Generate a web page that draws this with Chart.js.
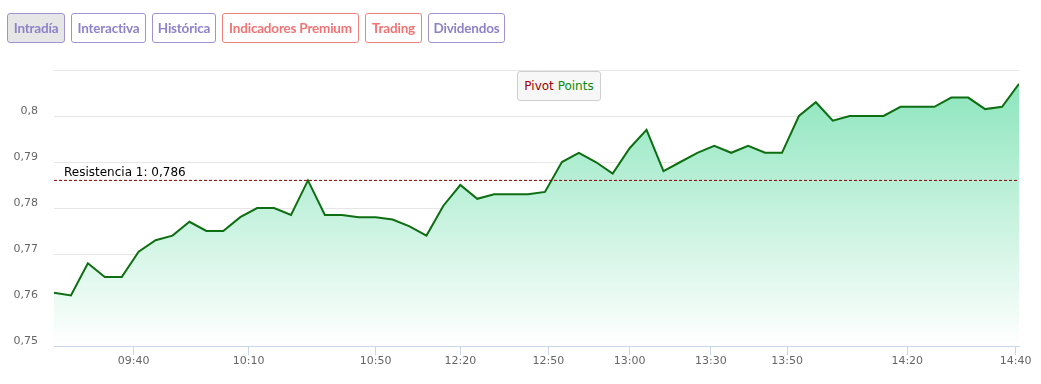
<!DOCTYPE html>
<html>
<head>
<meta charset="utf-8">
<script src="https://cdn.jsdelivr.net/npm/chart.js@4/dist/chart.umd.min.js"></script>
<style>
  body { margin: 0; background: #fff; font-family: "Lato", "Open Sans", sans-serif; }
  #wrap { position: relative; width: 1041px; height: 384px; }
  #grafico { position: absolute; left: 0; top: 0; }
  .botoes { position: absolute; left: 7px; top: 13px; display: flex; gap: 6px; }
  .botao {
    height: 30px; box-sizing: border-box; padding: 0; border: 1px solid #9f94d3;
    border-radius: 3px; color: #8e82c9; font-size: 13.5px; font-weight: 700;
    line-height: 28px; background: #fff; letter-spacing: -0.2px; text-align: center;
    white-space: nowrap;
  }
  .botao.ativo { background: #e6e6e6; }
  .botao.vermelho { border-color: #ef8080; color: #ef7474; }
  #pivot {
    position: absolute; left: 517px; top: 71px; width: 84px; height: 30px; box-sizing: border-box;
    border: 1px solid #cfcfcf; border-radius: 3px; background: #f7f7f7;
    font-family: "DejaVu Sans", sans-serif; font-size: 12px; line-height: 28px; text-align: center;
  }
</style>
</head>
<body>
<div id="wrap">
  <canvas id="grafico" width="1041" height="384"></canvas>
  <div class="botoes">
    <div class="botao ativo" style="width:58px">Intradía</div>
    <div class="botao" style="width:75px">Interactiva</div>
    <div class="botao" style="width:64px">Histórica</div>
    <div class="botao vermelho" style="width:137px">Indicadores Premium</div>
    <div class="botao vermelho" style="width:57px">Trading</div>
    <div class="botao" style="width:77px">Dividendos</div>
  </div>
  <div id="pivot"><span style="color:#a00000">Pivot</span> <span style="color:#0a8a0a">Points</span></div>
</div>
<script>
// Cotação intradía (um ponto por negociação, eixo ordinal)
const precos = [
  0.7616, 0.7610, 0.7680, 0.7650, 0.7650, 0.7705, 0.7730, 0.7740, 0.7770, 0.7750,
  0.7750, 0.7780, 0.7800, 0.7800, 0.7785, 0.7860, 0.7785, 0.7785, 0.7780, 0.7780,
  0.7775, 0.7760, 0.7740, 0.7805, 0.7850, 0.7820, 0.7830, 0.7830, 0.7830, 0.7835,
  0.7900, 0.7920, 0.7900, 0.7875, 0.7930, 0.7970, 0.7880, 0.7900, 0.7920, 0.7935,
  0.7920, 0.7935, 0.7920, 0.7920, 0.8000, 0.8030, 0.7990, 0.8000, 0.8000, 0.8000,
  0.8020, 0.8020, 0.8020, 0.8040, 0.8040, 0.8015, 0.8020, 0.8070
];
// Rótulos de hora e o índice (posição ordinal) onde caem
const rotulosHora = ["09:40", "10:10", "10:50", "12:20", "12:50", "13:00", "13:30", "13:50", "14:20", "14:40"];
const indiceHora = [4.7, 11.5, 19, 24, 29.2, 34, 38.8, 43.3, 50.4, 56.8];
const resistencia = 0.786;
const rotuloResistencia = "Resistencia 1: 0,786";

const indices = precos.map((_, i) => i);
const pontos = indices.map(i => ({ x: i, y: precos[i] }));
const linhaResistencia = [{ x: 0, y: resistencia }, { x: precos.length - 1, y: resistencia }];

// Plugin para escrever o rótulo da resistência
const rotuloPlugin = {
  id: "rotuloResistencia",
  afterDatasetsDraw(chart) {
    const ctx = chart.ctx;
    const y = chart.scales.y.getPixelForValue(resistencia);
    ctx.save();
    ctx.font = "12px 'DejaVu Sans', sans-serif";
    ctx.fillStyle = "#000";
    ctx.textBaseline = "bottom";
    ctx.fillText(rotuloResistencia, chart.chartArea.left + 10, y - 2);
    ctx.restore();
  }
};

const ctx = document.getElementById("grafico").getContext("2d");

new Chart(ctx, {
  type: "line",
  data: {
    datasets: [
      {
        label: "Resistencia",
        data: linhaResistencia,
        borderColor: "#8b0000",
        borderWidth: 1,
        borderDash: [3, 2],
        pointRadius: 0,
        fill: false,
      },
      {
        label: "Precio",
        data: pontos,
        borderColor: "#0e6e12",
        borderWidth: 2,
        pointRadius: 0,
        tension: 0,
        fill: "start",
        backgroundColor: (c) => {
          const area = c.chart.chartArea;
          if (!area) return "rgba(140,230,190,0.9)";
          const g = c.chart.ctx.createLinearGradient(0, area.top, 0, area.bottom);
          g.addColorStop(0, "rgba(135,228,186,1)");
          g.addColorStop(1, "rgba(255,255,255,1)");
          return g;
        },
      },
    ],
  },
  options: {
    responsive: false,
    animation: false,
    layout: { padding: { top: 70, right: 22, left: 0, bottom: 0 } },
    plugins: { legend: { display: false }, tooltip: { enabled: false } },
    scales: {
      x: {
        type: "linear",
        min: 0,
        max: precos.length - 1,
        afterBuildTicks: (scale) => { scale.ticks = indiceHora.map(v => ({ value: v })); },
        afterFit: (scale) => { scale.height = 38; },
        grid: { drawOnChartArea: false, drawTicks: true, tickLength: 9, color: "#ccd6eb" },
        border: { color: "#ccd6eb" },
        ticks: {
          autoSkip: false,
          maxRotation: 0,
          padding: 0,
          color: "#666",
          font: { family: "'DejaVu Sans', sans-serif", size: 11 },
          callback: (v) => {
            const k = indiceHora.indexOf(v);
            return k >= 0 ? rotulosHora[k] : "";
          },
        },
      },
      y: {
        min: 0.75,
        max: 0.81,
        afterFit: (scale) => { scale.width = 54; },
        grid: { color: "#e6e6e6", drawTicks: false },
        border: { display: false },
        ticks: {
          stepSize: 0.01,
          padding: 16,
          labelOffset: -5,
          color: "#666",
          font: { family: "'DejaVu Sans', sans-serif", size: 11 },
          callback: (v) => {
            if (v > 0.805) return "";
            return String(parseFloat(v.toFixed(2))).replace(".", ",");
          },
        },
      },
    },
  },
  plugins: [rotuloPlugin],
});
</script>
</body>
</html>
